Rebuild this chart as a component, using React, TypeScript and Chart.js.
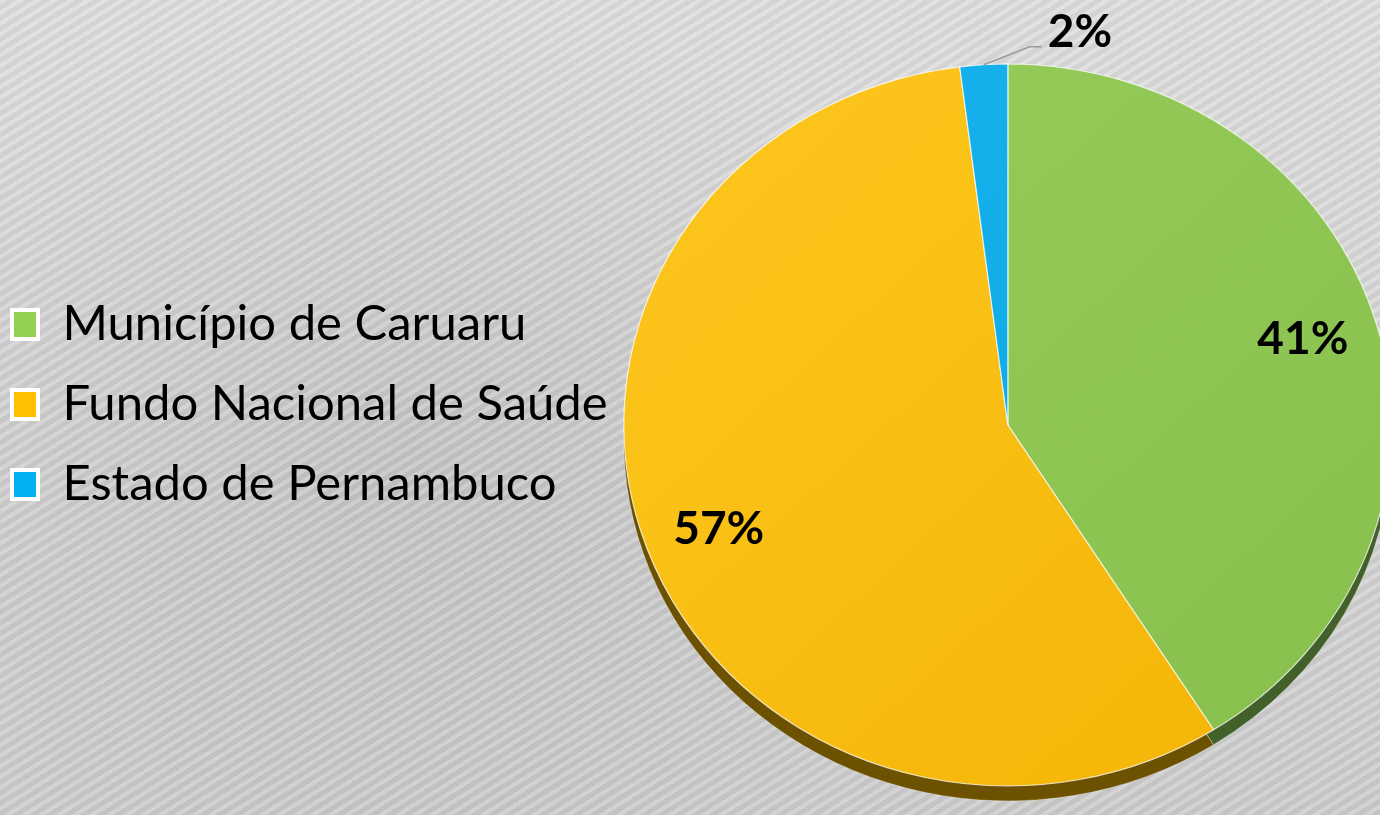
import React, { useEffect, useRef } from "react";
import { Chart, registerables } from "chart.js";

Chart.register(...registerables);

const categories = ["Município de Caruaru", "Fundo Nacional de Saúde", "Estado de Pernambuco"];
const values = [41, 57, 2];
const sliceLight = ["#98ce5b", "#fec81f", "#1ab4ef"];
const sliceDark = ["#87bf4c", "#f2b305", "#07a5e2"];
const sideColors = ["#42612a", "#6c5200", "#075a7c"];
const legendColors = ["#92d050", "#ffc000", "#00b0f0"];

const FONT = "Lato, Carlito, 'Open Sans', sans-serif";

const tiltPlugin = {
  id: "tilt3d",
  beforeDatasetsDraw(chart: any, _args: any, opts: any) {
    const arcs = chart.getDatasetMeta(0).data;
    const ctx = chart.ctx;
    ctx.save();
    if (!arcs.length) return;
    const c = arcs[0].getProps(["x", "y"], true);
    ctx.translate(c.x, c.y + opts.shiftY);
    ctx.scale(1, opts.scaleY);
    ctx.translate(-c.x, -c.y);
    const d = opts.depth / opts.scaleY;
    arcs.forEach((arc: any, i: number) => {
      const p = arc.getProps(["x", "y", "startAngle", "endAngle", "outerRadius"], true);
      ctx.beginPath();
      ctx.moveTo(p.x, p.y + d);
      ctx.arc(p.x, p.y + d, p.outerRadius, p.startAngle, p.endAngle);
      ctx.closePath();
      ctx.fillStyle = opts.sideColors[i];
      ctx.fill();
      ctx.strokeStyle = "rgba(255,255,255,0.35)";
      ctx.lineWidth = 1;
      ctx.stroke();
    });
  },
  afterDatasetsDraw(chart: any, _args: any, opts: any) {
    const ctx = chart.ctx;
    ctx.restore();
    const meta = chart.getDatasetMeta(0);
    const total = values.reduce((a, b) => a + b, 0);
    ctx.save();
    ctx.font = `bold ${opts.labelSize}px ${FONT}`;
    ctx.fillStyle = "#000000";
    meta.data.forEach((arc: any, i: number) => {
      const p = arc.getProps(["x", "y", "startAngle", "endAngle", "outerRadius"], true);
      const mid = (p.startAngle + p.endAngle) / 2;
      const map = (px: number, py: number, s: number) => [px, p.y + opts.shiftY + (py - p.y) * s];
      const text = Math.round((values[i] / total) * 100) + "%";
      if (values[i] / total >= 0.05) {
        const [lx, ly] = map(
          p.x + Math.cos(mid) * p.outerRadius * opts.labelRadius,
          p.y + Math.sin(mid) * p.outerRadius * opts.labelRadius,
          opts.labelScaleY
        );
        ctx.textAlign = "center";
        ctx.textBaseline = "middle";
        ctx.fillText(text, lx, ly);
      } else {
        const [ex, ey] = map(
          p.x + Math.cos(mid) * p.outerRadius,
          p.y + Math.sin(mid) * p.outerRadius,
          opts.scaleY
        );
        ctx.strokeStyle = "#9b9b9b";
        ctx.lineWidth = 1.5;
        ctx.beginPath();
        ctx.moveTo(ex, ey);
        ctx.lineTo(ex + 46, ey - 18);
        ctx.lineTo(ex + 58, ey - 18);
        ctx.stroke();
        ctx.textAlign = "left";
        ctx.textBaseline = "alphabetic";
        ctx.fillText(text, ex + 64, ey - 18);
      }
    });
    ctx.restore();
  },
};

function sliceGradient(ctx: any, i: number) {
  const chart = ctx.chart;
  const area = chart.chartArea;
  if (!area) return sliceLight[i];
  const g = chart.ctx.createLinearGradient(area.left, area.top, area.right, area.bottom);
  g.addColorStop(0, sliceLight[i]);
  g.addColorStop(1, sliceDark[i]);
  return g;
}

export default function App() {
  const ref = useRef<HTMLCanvasElement | null>(null);

  useEffect(() => {
    document.body.style.margin = "0";
    document.body.style.overflow = "hidden";
    const canvas = ref.current;
    if (!canvas) return;
    const chart = new Chart(canvas, {
      type: "pie",
      data: {
        labels: categories,
        datasets: [
          {
            data: values,
            backgroundColor: (c: any) => sliceGradient(c, c.dataIndex),
            borderColor: "rgba(255,255,255,0.75)",
            borderWidth: 1.2,
            radius: 384,
          } as any,
        ],
      },
      options: {
        responsive: false,
        animation: false,
        events: [],
        layout: { padding: { top: 0, bottom: 6, left: 0, right: 1 } },
        plugins: {
          tooltip: { enabled: false },
          legend: {
            position: "left",
            align: "center",
            labels: {
              boxWidth: 26,
              boxHeight: 29,
              padding: 31,
              color: "#000000",
              font: { family: FONT, size: 49 },
              generateLabels: () =>
                categories.map((c, i) => ({
                  text: c,
                  fillStyle: legendColors[i],
                  strokeStyle: "#ffffff",
                  lineWidth: 4,
                  hidden: false,
                  index: i,
                  fontColor: "#000000",
                })),
            },
          },
          tilt3d: {
            scaleY: 0.94,
            shiftY: 20.5,
            depth: 15,
            sideColors,
            labelRadius: 0.8,
            labelScaleY: 1.0,
            labelSize: 46,
          },
        } as any,
      },
      plugins: [tiltPlugin],
    });
    return () => chart.destroy();
  }, []);

  return (
    <div
      style={{
        position: "fixed",
        left: 0,
        top: 0,
        width: 1380,
        height: 815,
        overflow: "hidden",
        backgroundColor: "#d4d4d4",
        backgroundImage:
          "repeating-linear-gradient(148deg, rgba(255,255,255,0.16) 0px, rgba(255,255,255,0.16) 4px, rgba(0,0,0,0.035) 4px, rgba(0,0,0,0.035) 9px)," +
          "radial-gradient(ellipse 45% 55% at 30% 55%, rgba(0,0,0,0.07), rgba(0,0,0,0) 100%)," +
          "linear-gradient(180deg, #dcdcdc 0%, #d2d2d2 60%, #cbcbcb 100%)",
      }}
    >
      <canvas
        ref={ref}
        width={1418}
        height={815}
        style={{ position: "absolute", left: -19, top: 0, width: 1418, height: 815 }}
      />
    </div>
  );
}
